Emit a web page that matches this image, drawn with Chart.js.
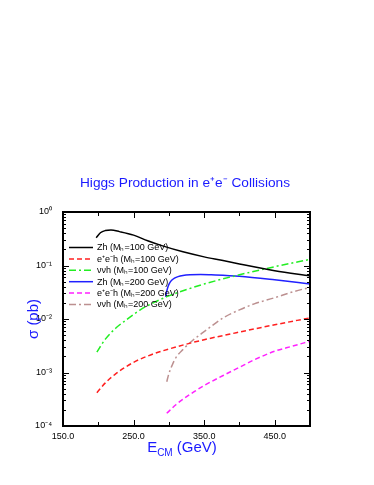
<!DOCTYPE html>
<html>
<head>
<meta charset="utf-8">
<script src="https://cdn.jsdelivr.net/npm/chart.js@4/dist/chart.umd.min.js"></script>
<style>
  html, body { margin: 0; padding: 0; background: #fff; }
  #wrap { width: 374px; height: 485px; }
</style>
</head>
<body>
<div id="wrap"><canvas id="higgsChart"></canvas></div>
<script>
/* data: sqrt(s) in GeV, sigma in pb */
const eZh100 = [197, 203, 210, 218, 230, 250, 270, 290, 320, 350, 375, 400, 450, 500];
const sZh100 = [0.33, 0.41, 0.45, 0.46, 0.43, 0.37, 0.29, 0.235, 0.18, 0.145, 0.125, 0.107, 0.080, 0.064];

const eEeh100 = [198, 210, 225, 250, 275, 300, 336, 350, 400, 450, 500];
const sEeh100 = [0.00042, 0.00064, 0.00095, 0.00155, 0.00215, 0.00275, 0.0037, 0.0041, 0.0057, 0.0078, 0.0105];

const eVvh100 = [198, 210, 225, 240, 260, 281, 300, 350, 400, 450, 500];
const sVvh100 = [0.0024, 0.0042, 0.0068, 0.0097, 0.015, 0.021, 0.027, 0.045, 0.067, 0.095, 0.13];

const eZh200 = [295.5, 297, 299, 301, 304, 308, 313, 320, 330, 345, 360, 400, 450, 500];
const sZh200 = [0.026, 0.033, 0.041, 0.047, 0.053, 0.058, 0.062, 0.065, 0.067, 0.068, 0.067, 0.063, 0.054, 0.045];

const eEeh200 = [297, 310, 330, 350, 377, 400, 422, 450, 475, 500];
const sEeh200 = [0.000173, 0.00025, 0.00039, 0.00057, 0.00088, 0.00125, 0.00175, 0.0025, 0.0031, 0.00385];

const eVvh200 = [297, 300, 305, 310, 320, 334, 350, 377, 400, 421, 450, 475, 500];
const sVvh200 = [0.00067, 0.00095, 0.0014, 0.0019, 0.0027, 0.0040, 0.0058, 0.0105, 0.0148, 0.0192, 0.025, 0.032, 0.039];

const seriesNames = [
    "Zh (M\u2095=100 GeV)",
    "e\u207Ae\u207Bh (M\u2095=100 GeV)",
    "\u03BD\u03BDh (M\u2095=100 GeV)",
    "Zh (M\u2095=200 GeV)",
    "e\u207Ae\u207Bh (M\u2095=200 GeV)",
    "\u03BD\u03BDh (M\u2095=200 GeV)"
];
const xTickLabels = [150, 250, 350, 450];

const pairs = (xs, ys) => xs.map((x, i) => ({ x: x, y: ys[i] }));

function line(idx, xs, ys, color, dash, width) {
    return {
        label: seriesNames[idx],
        data: pairs(xs, ys),
        borderColor: color,
        borderWidth: width,
        borderDash: dash,
        pointRadius: 0,
        fill: false,
        cubicInterpolationMode: "monotone"
    };
}

/* inward ticks on all four sides, titles with sub/superscripts, legend box */
const decorations = {
    id: "decorations",
    afterDraw(chart) {
        const ctx = chart.ctx;
        const a = chart.chartArea;
        const xs = chart.scales.x;
        const ys = chart.scales.y;
        ctx.save();
        ctx.strokeStyle = "#000";
        ctx.lineWidth = 1;

        ctx.beginPath();
        for (let v = 150; v <= 500; v += 50) {
            const px = Math.round(xs.getPixelForValue(v)) + 0.5;
            const len = xTickLabels.includes(v) ? 6 : 4;
            ctx.moveTo(px, a.bottom); ctx.lineTo(px, a.bottom - len);
            ctx.moveTo(px, a.top); ctx.lineTo(px, a.top + len);
        }
        for (let d = -4; d <= 0; d++) {
            for (let m = 1; m <= 9; m++) {
                const v = m * Math.pow(10, d);
                if (v > 1) break;
                const py = Math.round(ys.getPixelForValue(v)) + 0.5;
                const len = m === 1 ? 6 : 3;
                ctx.moveTo(a.left, py); ctx.lineTo(a.left + len, py);
                ctx.moveTo(a.right, py); ctx.lineTo(a.right - len, py);
            }
        }
        ctx.stroke();

        ctx.lineWidth = 2;
        ctx.strokeRect(a.left, a.top, a.right - a.left, a.bottom - a.top);

        /* main title */
        ctx.fillStyle = "#1a1aff";
        ctx.textBaseline = "alphabetic";
        ctx.textAlign = "center";
        ctx.font = "13.7px 'Liberation Sans', Arial, sans-serif";
        ctx.fillText("Higgs Production in e\u207Ae\u207B Collisions", 185, 187);

        /* x title with subscript */
        ctx.textAlign = "left";
        const big = "15px 'Liberation Sans', Arial, sans-serif";
        const small = "10px 'Liberation Sans', Arial, sans-serif";
        ctx.font = big;
        const wE = ctx.measureText("E").width;
        ctx.font = small;
        const wCM = ctx.measureText("CM").width;
        ctx.font = big;
        const wRest = ctx.measureText(" (GeV)").width;
        let x0 = 182 - (wE + wCM + wRest) / 2;
        const yb = 452;
        ctx.fillText("E", x0, yb);
        ctx.font = small;
        ctx.fillText("CM", x0 + wE, yb + 4);
        ctx.font = big;
        ctx.fillText(" (GeV)", x0 + wE + wCM, yb);

        /* y title */
        ctx.save();
        ctx.translate(38, (a.top + a.bottom) / 2);
        ctx.rotate(-Math.PI / 2);
        ctx.textAlign = "center";
        ctx.font = big;
        ctx.fillText("\u03C3 (pb)", 0, 0);
        ctx.restore();

        /* legend */
        ctx.font = "9px 'Liberation Sans', Arial, sans-serif";
        ctx.textAlign = "left";
        ctx.textBaseline = "middle";
        chart.data.datasets.forEach((ds, i) => {
            const y = 247.5 + i * 11.4;
            ctx.strokeStyle = ds.borderColor;
            ctx.lineWidth = ds.borderWidth;
            ctx.setLineDash(ds.borderDash || []);
            ctx.beginPath();
            ctx.moveTo(69, y); ctx.lineTo(93, y);
            ctx.stroke();
            ctx.setLineDash([]);
            ctx.fillStyle = "#000";
            ctx.fillText(ds.label, 97, y + 0.5);
        });
        ctx.restore();
    }
};

new Chart(document.getElementById("higgsChart"), {
    type: "line",
    data: {
        datasets: [
            line(0, eZh100, sZh100, "#000000", [], 1.5),
            line(1, eEeh100, sEeh100, "#ff2020", [5, 3], 1.5),
            line(2, eVvh100, sVvh100, "#22ee22", [7, 3, 2, 3], 1.5),
            line(3, eZh200, sZh200, "#2020ff", [], 1.5),
            line(4, eEeh200, sEeh200, "#ff22ff", [5, 3], 1.5),
            line(5, eVvh200, sVvh200, "#bc9090", [7, 3, 2, 3], 1.5)
        ]
    },
    options: {
        responsive: true,
        maintainAspectRatio: false,
        animation: false,
        layout: { padding: { left: 0, right: 64, top: 212, bottom: 40 } },
        plugins: { legend: { display: false }, tooltip: { enabled: false }, title: { display: false } },
        scales: {
            x: {
                type: "linear",
                min: 150,
                max: 500,
                grid: { display: false, drawTicks: false },
                border: { display: false },
                afterFit(scale) { scale.height = 19; },
                ticks: {
                    stepSize: 50,
                    autoSkip: false,
                    maxRotation: 0,
                    padding: 5,
                    color: "#000",
                    font: { size: 9, family: "'Liberation Sans', Arial, sans-serif" },
                    callback: v => xTickLabels.includes(v) ? v.toFixed(1) : ""
                }
            },
            y: {
                type: "logarithmic",
                min: 0.0001,
                max: 1,
                grid: { display: false, drawTicks: false },
                border: { display: false },
                afterFit(scale) { scale.width = 63; },
                ticks: {
                    autoSkip: false,
                    padding: 11,
                    color: "#000",
                    font: { size: 9, family: "'Liberation Sans', Arial, sans-serif" },
                    callback: v => {
                        const e = Math.log10(v);
                        if (Math.abs(e - Math.round(e)) > 1e-6) return "";
                        const sup = { "0": "\u2070", "1": "\u00B9", "2": "\u00B2", "3": "\u00B3", "4": "\u2074", "-": "\u207B" };
                        return "10" + String(Math.round(e)).split("").map(c => sup[c]).join("");
                    }
                }
            }
        }
    },
    plugins: [decorations]
});
</script>
</body>
</html>
